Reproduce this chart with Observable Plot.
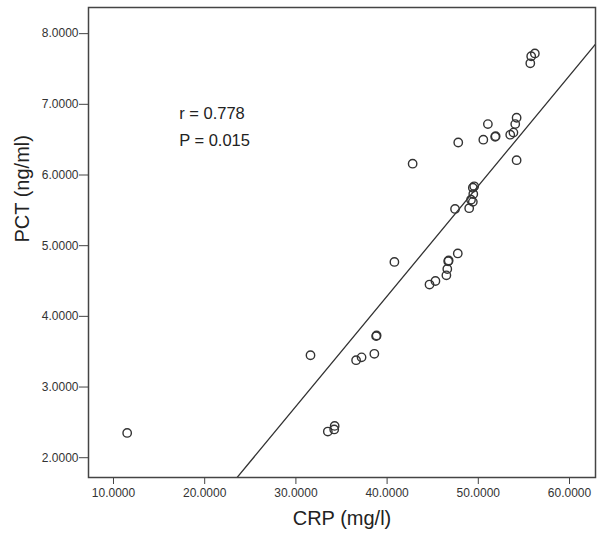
<!DOCTYPE html>
<html>
<head>
<meta charset="utf-8">
<script src="https://cdn.jsdelivr.net/npm/d3@7"></script>
<script src="https://cdn.jsdelivr.net/npm/@observablehq/plot@0.6"></script>
<style>
  html, body { margin: 0; padding: 0; background: #fff; }
</style>
</head>
<body>
<div id="chart"></div>
<script>
// CRP (mg/l) values
const crp = [11.5, 31.6, 33.5, 34.2, 34.25, 36.6, 37.2, 38.6, 38.8, 38.85,
  40.8, 42.8, 44.65, 45.3, 46.5, 46.6, 46.7, 46.75, 47.75, 47.45,
  47.8, 49.0, 49.2, 49.4, 49.45, 49.4, 49.55, 50.55, 51.05, 51.85,
  51.9, 53.5, 53.85, 54.05, 54.2, 54.2, 55.7, 55.8, 56.2];
// PCT (ng/ml) values
const pct = [2.35, 3.45, 2.37, 2.40, 2.45, 3.38, 3.42, 3.47, 3.72, 3.73,
  4.77, 6.16, 4.45, 4.50, 4.58, 4.67, 4.78, 4.79, 4.89, 5.52,
  6.46, 5.53, 5.65, 5.62, 5.73, 5.82, 5.84, 6.50, 6.72, 6.54,
  6.55, 6.57, 6.60, 6.72, 6.81, 6.21, 7.58, 7.68, 7.72];

// Fit line coefficients (PCT = intercept + slope * CRP)
const fitIntercept = -1.954;
const fitSlope = 0.156;

const xTicks = [10, 20, 30, 40, 50, 60];
const yTicks = [2, 3, 4, 5, 6, 7, 8];
const xDomain = [7.26, 62.85];
const yDomain = [1.72, 8.37];

const statsText = ["r = 0.778", "P = 0.015"];
const statsX = [17.2, 17.2];
const statsY = [6.87, 6.49];

const xLabel = "CRP (mg/l)";
const yLabel = "PCT (ng/ml)";

const points = crp.map((c, i) => ({crp: c, pct: pct[i]}));
const fitLine = xDomain.map(x => ({crp: x, pct: fitIntercept + fitSlope * x}));
const stats = statsText.map((t, i) => ({t, x: statsX[i], y: statsY[i]}));
const fmt = d3.format(".4f");

const chart = Plot.plot({
  width: 602,
  height: 551,
  marginLeft: 88,
  marginRight: 7,
  marginTop: 7,
  marginBottom: 74,
  style: {fontFamily: "'Liberation Sans', Arial, sans-serif", background: "#fff", color: "#333"},
  x: {domain: xDomain},
  y: {domain: yDomain},
  marks: [
    Plot.axisX({ticks: xTicks, tickFormat: fmt, tickSize: 7, tickPadding: 4, fontSize: 12, label: null, stroke: "#444", fill: "#333"}),
    Plot.axisY({ticks: yTicks, tickFormat: fmt, tickSize: 9, tickPadding: 1, fontSize: 12, label: null, stroke: "#444", fill: "#333"}),
    Plot.line(fitLine, {x: "crp", y: "pct", stroke: "#333", strokeWidth: 1.3, clip: true}),
    Plot.dot(points, {x: "crp", y: "pct", r: 4.2, stroke: "#333", strokeWidth: 1.4, fill: "none"}),
    Plot.text(stats, {x: "x", y: "y", text: "t", textAnchor: "start", fontSize: 16.5, fill: "#222"}),
    Plot.text([xLabel], {frameAnchor: "bottom", dy: 47, fontSize: 20, fill: "#222"}),
    Plot.text([yLabel], {frameAnchor: "left", dx: -66, rotate: -90, fontSize: 20, fill: "#222"}),
    Plot.frame({stroke: "#444", strokeWidth: 1.5})
  ]
});
document.getElementById("chart").appendChild(chart);
</script>
</body>
</html>
